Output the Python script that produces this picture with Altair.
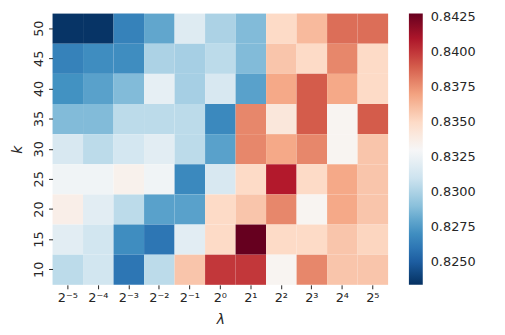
import altair as alt
import pandas as pd

lambdas = ["2⁻⁵", "2⁻⁴", "2⁻³", "2⁻²", "2⁻¹", "2⁰", "2¹", "2²", "2³", "2⁴", "2⁵"]
ks = [50, 45, 40, 35, 30, 25, 20, 15, 10]

row_50 = [0.8235, 0.8235, 0.8265, 0.8280, 0.8318, 0.8300, 0.8288, 0.8350, 0.8362, 0.8385, 0.8385]
row_45 = [0.8265, 0.8270, 0.8270, 0.8300, 0.8298, 0.8305, 0.8288, 0.8358, 0.8350, 0.8378, 0.8350]
row_40 = [0.8272, 0.8278, 0.8288, 0.8322, 0.8298, 0.8315, 0.8278, 0.8368, 0.8390, 0.8368, 0.8350]
row_35 = [0.8288, 0.8288, 0.8305, 0.8305, 0.8305, 0.8268, 0.8378, 0.8342, 0.8390, 0.8333, 0.8390]
row_30 = [0.8315, 0.8305, 0.8313, 0.8320, 0.8305, 0.8278, 0.8378, 0.8368, 0.8378, 0.8333, 0.8358]
row_25 = [0.8327, 0.8327, 0.8335, 0.8327, 0.8268, 0.8315, 0.8350, 0.8408, 0.8350, 0.8368, 0.8358]
row_20 = [0.8337, 0.8320, 0.8305, 0.8278, 0.8278, 0.8350, 0.8358, 0.8378, 0.8333, 0.8368, 0.8358]
row_15 = [0.8320, 0.8312, 0.8270, 0.8260, 0.8320, 0.8350, 0.8428, 0.8350, 0.8350, 0.8358, 0.8352]
row_10 = [0.8305, 0.8312, 0.8260, 0.8305, 0.8358, 0.8400, 0.8400, 0.8333, 0.8378, 0.8358, 0.8358]

rows = [row_50, row_45, row_40, row_35, row_30, row_25, row_20, row_15, row_10]
tick_values = [0.8250, 0.8275, 0.8300, 0.8325, 0.8350, 0.8375, 0.8400, 0.8425]

# matplotlib RdBu_r (ColorBrewer RdBu, reversed), linearly interpolated
rdbu_r = ["#053061", "#2166ac", "#4393c3", "#92c5de", "#d1e5f0", "#f7f7f7",
          "#fddbc7", "#f4a582", "#d6604d", "#b2182b", "#67001f"]
vmin, vmax = 0.82337, 0.84278
stops = [vmin + i * (vmax - vmin) / 10 for i in range(11)]

records = []
for k, vals in zip(ks, rows):
    for lam, v in zip(lambdas, vals):
        records.append({"lam": lam, "k": str(k), "v": v})
df = pd.DataFrame(records)

FONT = "DejaVu Sans"
TXT = "#262626"

cscale = alt.Scale(domain=stops, range=rdbu_r, interpolate="rgb")

chart = alt.Chart(df).mark_rect(strokeWidth=0).encode(
    x=alt.X("lam:N", sort=lambdas, title="λ",
            axis=alt.Axis(labelAngle=0, domain=False, tickSize=4, tickColor=TXT,
                          labelFontSize=13, labelColor=TXT, labelPadding=3,
                          titleFontSize=14, titleFontStyle="italic", titleFontWeight="normal",
                          titleColor=TXT, titlePadding=8, labelFont=FONT, titleFont=FONT)),
    y=alt.Y("k:N", sort=[str(k) for k in ks], title="k",
            axis=alt.Axis(labelAngle=270, domain=False, tickSize=4, tickColor=TXT,
                          labelFontSize=13, labelColor=TXT, labelPadding=3,
                          labelAlign="center", labelBaseline="bottom",
                          titleFontSize=14, titleFontStyle="italic", titleFontWeight="normal",
                          titleColor=TXT, titlePadding=8, labelFont=FONT, titleFont=FONT)),
    color=alt.Color("v:Q", scale=cscale,
                    legend=alt.Legend(type="gradient", title=None, values=tick_values, format=".4f",
                                      gradientLength=274, gradientThickness=14,
                                      labelFontSize=13, labelColor=TXT, labelFont=FONT,
                                      labelOffset=8, offset=21, gradientStrokeWidth=0,
                                      direction="vertical")),
).properties(
    width=339, height=274,
    autosize=alt.AutoSizeParams(type="none"),
    padding={"left": 45, "top": 4, "right": 110, "bottom": 45},
).configure_view(stroke=None)

chart.save("out.html", embed_options={"renderer": "svg", "actions": False})
